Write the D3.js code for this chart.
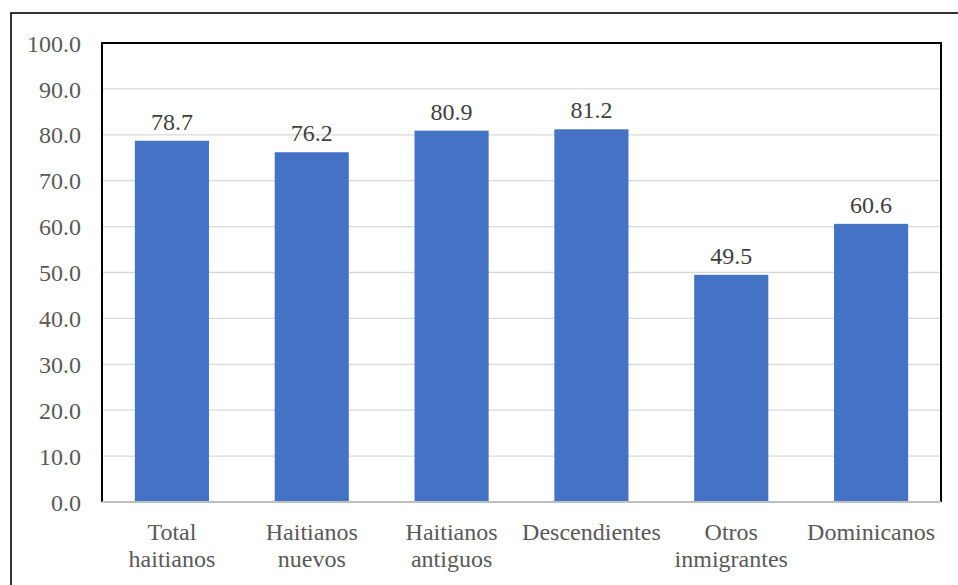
<!DOCTYPE html>
<html>
<head>
<meta charset="utf-8">
<script src="https://cdn.jsdelivr.net/npm/d3@7"></script>
</head>
<body style="margin:0">
<svg id="chart" width="958" height="585"></svg>
<script>
// Categories (each label split into its display lines) and values
const categories = [
  ["Total", "haitianos"],
  ["Haitianos", "nuevos"],
  ["Haitianos", "antiguos"],
  ["Descendientes"],
  ["Otros", "inmigrantes"],
  ["Dominicanos"]
];
const values = [78.7, 76.2, 80.9, 81.2, 49.5, 60.6];
const yTicks = [0, 10, 20, 30, 40, 50, 60, 70, 80, 90, 100];

const fontFamily = '"Times New Roman"';
const fontSize = "24px";
const plot = { left: 102, top: 43, right: 941, bottom: 502 };

const svg = d3.select("#chart");

// Outer frame around the whole figure
svg.append("rect")
  .attr("x", 11).attr("y", 13)
  .attr("width", 980).attr("height", 600)
  .attr("fill", "none").attr("stroke", "#000").attr("stroke-width", 1.6);

const x = d3.scaleBand()
  .domain(d3.range(categories.length))
  .range([plot.left, plot.right])
  .paddingInner(0.47).paddingOuter(0.235);

const y = d3.scaleLinear().domain([0, 100]).range([plot.bottom, plot.top]);

// Gridlines
svg.append("g")
  .selectAll("line")
  .data(yTicks.filter(t => t > 0 && t < 100))
  .join("line")
  .attr("x1", plot.left).attr("x2", plot.right)
  .attr("y1", d => y(d)).attr("y2", d => y(d))
  .attr("stroke", "#d9d9d9").attr("stroke-width", 1.3);

// Y axis labels
const yAxis = d3.axisLeft(y).tickValues(yTicks).tickFormat(d3.format(".1f")).tickSize(0).tickPadding(21);
const yg = svg.append("g").attr("transform", `translate(${plot.left},0)`).call(yAxis);
yg.attr("font-family", null).attr("font-size", null);
yg.select(".domain").remove();
yg.selectAll("text")
  .style("font-family", fontFamily).style("font-size", fontSize)
  .attr("fill", "#595959")
  .attr("dy", "0.34em");

// Bars
svg.append("g")
  .selectAll("rect")
  .data(values)
  .join("rect")
  .attr("x", (d, i) => x(i))
  .attr("y", d => y(d))
  .attr("width", x.bandwidth())
  .attr("height", d => y(0) - y(d))
  .attr("fill", "#4472c4");

// Value labels above the bars
svg.append("g")
  .selectAll("text")
  .data(values)
  .join("text")
  .attr("x", (d, i) => x(i) + x.bandwidth() / 2)
  .attr("y", d => y(d) - 11)
  .attr("text-anchor", "middle")
  .style("font-family", fontFamily).style("font-size", fontSize)
  .attr("fill", "#404040")
  .text(d => d.toFixed(1));

// Plot frame: black on left, top and right; grey baseline along the bottom
svg.append("path")
  .attr("d", `M${plot.left},${plot.bottom} V${plot.top} H${plot.right} V${plot.bottom}`)
  .attr("fill", "none").attr("stroke", "#000").attr("stroke-width", 2);
svg.append("line")
  .attr("x1", plot.left).attr("x2", plot.right)
  .attr("y1", plot.bottom).attr("y2", plot.bottom)
  .attr("stroke", "#bfbfbf").attr("stroke-width", 2);

// Category labels, one text per line
categories.forEach((lines, i) => {
  lines.forEach((line, j) => {
    svg.append("text")
      .attr("x", x(i) + x.bandwidth() / 2)
      .attr("y", 540 + j * 27)
      .attr("text-anchor", "middle")
      .style("font-family", fontFamily).style("font-size", fontSize)
      .attr("fill", "#595959")
      .text(line);
  });
});
</script>
</body>
</html>
